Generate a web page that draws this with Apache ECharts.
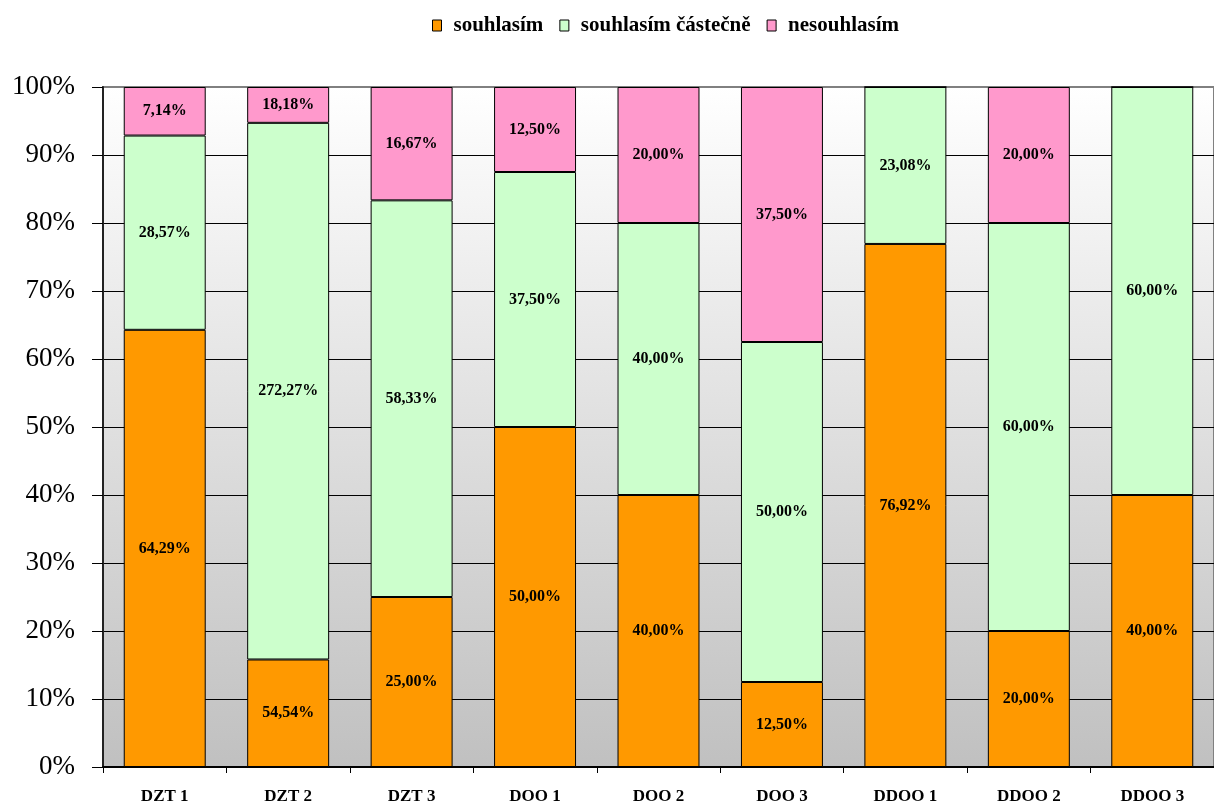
<!DOCTYPE html>
<html>
<head>
<meta charset="utf-8">
<script src="https://cdn.jsdelivr.net/npm/echarts@6/dist/echarts.min.js"></script>
<style>
  html, body { margin: 0; padding: 0; background: #fff; }
  #chart { width: 1214px; height: 806px; }
</style>
</head>
<body>
<div id="chart"></div>
<script>
// Survey answers per group (raw shares as reported)
const categories = ['DZT 1', 'DZT 2', 'DZT 3', 'DOO 1', 'DOO 2', 'DOO 3', 'DDOO 1', 'DDOO 2', 'DDOO 3'];
const seriesNames = ['souhlasím', 'souhlasím částečně', 'nesouhlasím'];
const agree    = [64.29, 54.54, 25.00, 50.00, 40.00, 12.50, 76.92, 20.00, 40.00];
const partly   = [28.57, 272.27, 58.33, 37.50, 40.00, 50.00, 23.08, 60.00, 60.00];
const disagree = [7.14, 18.18, 16.67, 12.50, 20.00, 37.50, 0, 20.00, 0];
const yTicks = [0, 10, 20, 30, 40, 50, 60, 70, 80, 90, 100];

const colors = ['#FF9900', '#CCFFCC', '#FF99CC'];
const serif = '"Liberation Serif", "Times New Roman", serif';

// Each column is stacked to 100 %: heights are the share of the column total,
// labels keep the reported value.
const raw = [agree, partly, disagree];
const totals = categories.map((_, i) => raw.reduce((s, arr) => s + arr[i], 0));

function fmt(v) {
  return v.toFixed(2).replace('.', ',') + '%';
}

const series = raw.map((arr, k) => ({
  name: seriesNames[k],
  type: 'bar',
  stack: 'total',
  barWidth: '66.4%',
  itemStyle: { color: colors[k], borderColor: '#000', borderWidth: 1 },
  label: {
    show: true,
    position: 'inside',
    color: '#000',
    fontFamily: serif,
    fontWeight: 'bold',
    fontSize: 16,
    formatter: p => (p.data.raw > 0 ? fmt(p.data.raw) : '')
  },
  data: arr.map((v, i) => ({ value: v / totals[i] * 100, raw: v }))
}));

const chart = echarts.init(document.getElementById('chart'));
chart.setOption({
  animation: false,
  legend: {
    top: 15,
    left: 432,
    padding: 0,
    itemWidth: 9,
    itemHeight: 11,
    itemGap: 16,
    icon: 'rect',
    itemStyle: { borderColor: '#000', borderWidth: 1 },
    textStyle: {
      fontFamily: serif,
      fontWeight: 'bold',
      fontSize: 21,
      color: '#000',
      padding: [0, 0, 0, 7]
    },
    data: seriesNames
  },
  grid: {
    left: 103,
    right: -14,
    top: 87,
    bottom: 39,
    show: true,
    borderColor: '#808080',
    borderWidth: 2,
    backgroundColor: new echarts.graphic.LinearGradient(0, 0, 0, 1, [
      { offset: 0, color: '#ffffff' },
      { offset: 1, color: '#c0c0c0' }
    ])
  },
  xAxis: {
    type: 'category',
    data: categories,
    axisLine: { lineStyle: { color: '#000', width: 2 } },
    axisTick: { show: true, length: 6, lineStyle: { color: '#000', width: 1 } },
    axisLabel: {
      color: '#000',
      fontFamily: serif,
      fontWeight: 'bold',
      fontSize: 17,
      margin: 21
    }
  },
  yAxis: {
    type: 'value',
    min: yTicks[0],
    max: yTicks[yTicks.length - 1],
    interval: yTicks[1] - yTicks[0],
    axisLine: { show: true, lineStyle: { color: '#222', width: 2 } },
    axisTick: { show: true, length: 11, lineStyle: { color: '#000', width: 1 } },
    axisLabel: {
      color: '#000',
      fontFamily: serif,
      fontSize: 27,
      margin: 28,
      formatter: '{value}%'
    },
    splitLine: {
      show: true,
      showMaxLine: false,
      lineStyle: { color: '#000', width: 1 }
    }
  },
  series: series
});
</script>
</body>
</html>
